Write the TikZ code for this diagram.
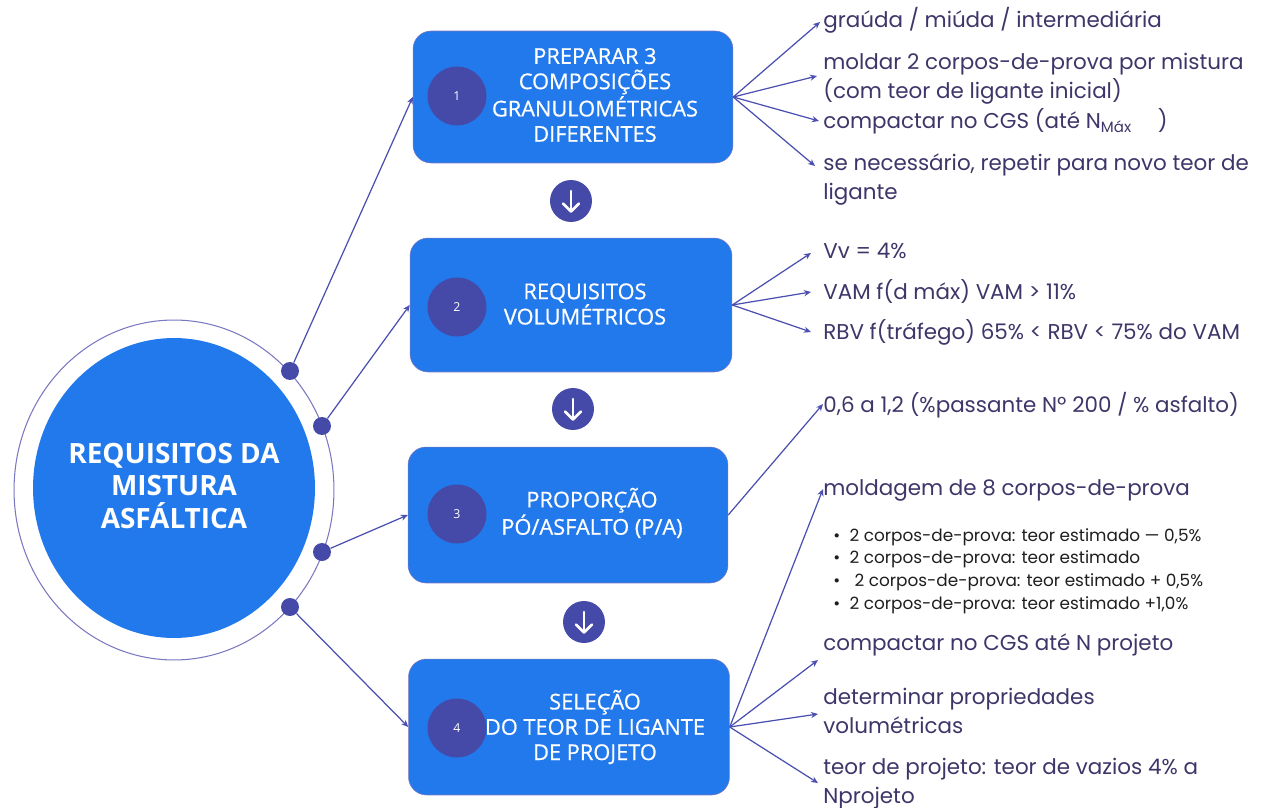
\documentclass[tikz,border=0pt]{standalone}
\usepackage{fontspec}
\setmainfont{Poppins}
\newfontfamily\boxfont{Open Sans}
\newfontfamily\boxfontm[FakeBold=0.6]{Open Sans}
\usetikzlibrary{arrows.meta,shapes.geometric}
\definecolor{boxblue}{HTML}{2279EB}
\definecolor{numpurple}{HTML}{454AA8}
\definecolor{linec}{HTML}{4A4FB0}
\definecolor{ringc}{HTML}{7A78C0}
\definecolor{txtpurple}{HTML}{3F3569}
\definecolor{bultxt}{HTML}{1E1E1E}
\tikzset{
  stepbox/.style={draw=ringc, line width=0.3pt, fill=boxblue, rounded corners=0.36cm, inner sep=0pt},
  steptext/.style={text=white, align=center, font=\boxfontm\fontsize{12.4}{14.4}\selectfont, inner sep=0pt},
  numc/.style={circle, fill=numpurple, minimum size=1.18cm, inner sep=0pt, text=white, font=\boxfont\fontsize{7}{8}\selectfont},
  downc/.style={circle, fill=numpurple, minimum size=0.84cm, inner sep=0pt},
  downarrow/.style={draw=white, line width=1.5pt, line cap=round, line join=round},
  dotc/.style={circle, fill=numpurple, minimum size=0.36cm, inner sep=0pt},
  conn/.style={draw=linec, line width=0.7pt, -{Stealth[length=4pt,width=3.5pt]}},
  rtext/.style={anchor=base west, text=txtpurple, font=\fontsize{12.2}{16.2}\selectfont, inner sep=0pt, align=left},
  bultext/.style={anchor=base west, text=bultxt, font=\fontsize{9.6}{12.9}\selectfont, inner sep=0pt, align=left}
}
\begin{document}
\begin{tikzpicture}[x=0.02cm,y=-0.02cm]
\useasboundingbox (0,0) rectangle (1272,808);

% central circle
\node[ellipse, draw=ringc, line width=0.6pt, minimum width=6.4cm, minimum height=6.8cm, inner sep=0pt] (ring) at (174,490) {};
\node[ellipse, fill=boxblue, minimum width=5.64cm, minimum height=6.0cm, inner sep=0pt] (core) at (174,488) {};
\node[text=white, align=center, font=\boxfont\bfseries\fontsize{15.9}{18.7}\selectfont] (coretext) at (174,486) {REQUISITOS DA\\MISTURA\\ASFÁLTICA};

% dots on ring
\node[dotc] (p1) at (290,371) {};
\node[dotc] (p2) at (322,426) {};
\node[dotc] (p3) at (322,552) {};
\node[dotc] (p4) at (290,607) {};

% step boxes
\node[stepbox, minimum width=6.4cm, minimum height=2.64cm] (b1) at (573,97) {};
\node[stepbox, minimum width=6.44cm, minimum height=2.68cm] (b2) at (571,305) {};
\node[stepbox, minimum width=6.4cm, minimum height=2.72cm] (b3) at (568,515) {};
\node[stepbox, minimum width=6.42cm, minimum height=2.72cm] (b4) at (569,727) {};

\node[numc] (n1) at (457,96) {1};
\node[numc] (n2) at (457,307) {2};
\node[numc] (n3) at (457,514) {3};
\node[numc] (n4) at (457,728) {4};

\node[steptext] (t1) at (595,95) {PREPARAR 3\\COMPOSIÇÕES\\GRANULOMÉTRICAS\\DIFERENTES};
\node[steptext] (t2) at (585,304) {REQUISITOS\\VOLUMÉTRICOS};
\node[steptext] (t3) at (592,513) {PROPORÇÃO\\PÓ/ASFALTO (P/A)};
\node[steptext] (t4) at (595,727) {SELEÇÃO\\DO TEOR DE LIGANTE\\DE PROJETO};

% down arrows
\foreach \i/\x/\y in {1/571/201, 2/573/409, 3/584/622}{
  \node[downc] (d\i) at (\x,\y) {};
  \draw[downarrow] ([yshift=0.2cm]d\i.center) -- ([yshift=-0.21cm]d\i.center);
  \draw[downarrow] ([xshift=-0.16cm,yshift=-0.05cm]d\i.center) -- ([yshift=-0.21cm]d\i.center) -- ([xshift=0.16cm,yshift=-0.05cm]d\i.center);
}

% connectors from ring to boxes
\draw[conn] (p1) -- (b1.west);
\draw[conn] (p2) -- (b2.west);
\draw[conn] (p3) -- (b3.west);
\draw[conn] (p4) -- (b4.west);

% right texts box 1 (base = last line)
\node[rtext] (r11) at (823,28) {graúda / miúda / intermediária};
\node[rtext] (r12) at (823,98) {moldar 2 corpos-de-prova por mistura\\(com teor de ligante inicial)};
\node[rtext] (r13) at (823,128) {compactar no CGS (até N\textsubscript{Máx}\hspace{1.2em})};
\node[rtext] (r14) at (823,199) {se necessário, repetir para novo teor de\\ligante};
\coordinate (a11) at (820,22);
\coordinate (a12) at (817,76);
\coordinate (a13) at (819,121);
\coordinate (a14) at (815,166);
\foreach \k in {1,2,3,4}{ \draw[conn] (b1.east) -- (a1\k); }

% right texts box 2
\node[rtext] (r21) at (823,258) {Vv = 4\%};
\node[rtext] (r22) at (823,299) {VAM f(d máx) VAM > 11\%};
\node[rtext] (r23) at (823,339) {RBV f(tráfego) 65\% < RBV < 75\% do VAM};
\coordinate (a21) at (811,253);
\coordinate (a22) at (811,292);
\coordinate (a23) at (811,332);
\foreach \k in {1,2,3}{ \draw[conn] (b2.east) -- (a2\k); }

% right text box 3
\node[rtext] (r31) at (823,412) {0,6 a 1,2 (\%passante Nº 200 / \% asfalto)};
\coordinate (a31) at (823,404);
\draw[conn] (b3.east) -- (a31);

% right texts box 4
\node[rtext] (r41) at (823,495) {moldagem de 8 corpos-de-prova};
\node[bultext] (bl) at (833,609) {•\hspace{0.55em}2 corpos-de-prova: teor estimado — 0,5\%\\•\hspace{0.55em}2 corpos-de-prova: teor estimado\\•\hspace{0.85em}2 corpos-de-prova: teor estimado + 0,5\%\\•\hspace{0.55em}2 corpos-de-prova: teor estimado +1,0\%};
\node[rtext] (r42) at (823,650) {compactar no CGS até N projeto};
\node[rtext] (r43) at (823,733) {determinar propriedades\\volumétricas};
\node[rtext] (r44) at (823,803) {teor de projeto: teor de vazios 4\% a\\Nprojeto};
\coordinate (a41) at (823,489);
\coordinate (a42) at (818,660);
\coordinate (a43) at (818,714);
\coordinate (a44) at (818,783);
\foreach \k in {1,2,3,4}{ \draw[conn] (b4.east) -- (a4\k); }
\end{tikzpicture}
\end{document}
